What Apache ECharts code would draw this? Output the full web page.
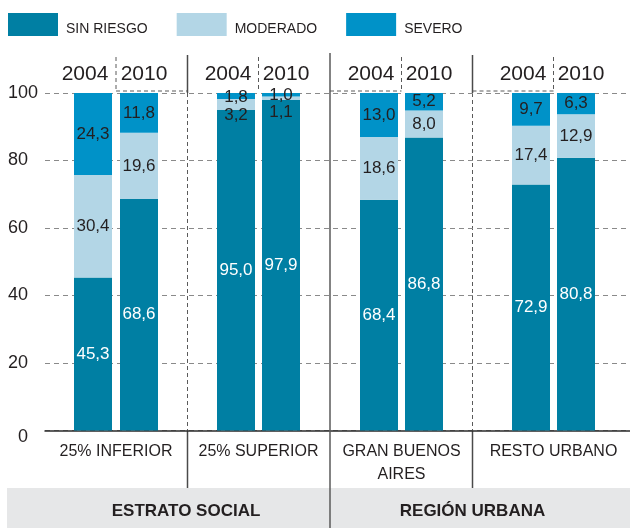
<!DOCTYPE html>
<html>
<head>
<meta charset="utf-8">
<script src="https://cdn.jsdelivr.net/npm/echarts@6/dist/echarts.min.js"></script>
<style>
  html, body { margin: 0; padding: 0; background: #ffffff; }
  #chart { width: 630px; height: 528px; }
</style>
</head>
<body>
<div id="chart"></div>
<script>
// ---------- data ----------
const groups = ['25% INFERIOR', '25% SUPERIOR', 'GRAN BUENOS\nAIRES', 'RESTO URBANO'];
const years = ['2004', '2010'];
const seriesNames = ['SIN RIESGO', 'MODERADO', 'SEVERO'];
const sinRiesgo = [45.3, 68.6, 95.0, 97.9, 68.4, 86.8, 72.9, 80.8];
const moderado  = [30.4, 19.6, 3.2, 1.1, 18.6, 8.0, 17.4, 12.9];
const severo    = [24.3, 11.8, 1.8, 1.0, 13.0, 5.2, 9.7, 6.3];
const sections = ['ESTRATO SOCIAL', 'REGIÓN URBANA'];
const yMin = 0, yMax = 100, yStep = 20;

// ---------- styles / layout ----------
const FONT = 'Liberation Sans';
const TXT = '#231f20';
const colors = ['#007fa3', '#b3d6e6', '#0092c8'];
const labelColors = ['#ffffff', TXT, TXT];
const PLOT_TOP = 93, AXIS_Y = 430.5, W = 630, H = 528;
const groupLeft = [70, 213.5, 356.5, 508.5];
const slotW = [46, 45, 45, 45];
const labelOffsets = [{}, {2: [0, 11], 3: [0, 14]}, {2: [0, 1], 3: [0, 1]}];

const values = [sinRiesgo, moderado, severo];
const fmt = v => Number(v).toFixed(1).replace('.', ',');

const chart = echarts.init(document.getElementById('chart'), null, {renderer: 'canvas'});

const grid = [{left: 45, right: 0, top: PLOT_TOP, bottom: H - AXIS_Y}];
const xAxis = [{
  type: 'value', gridIndex: 0, min: 0, max: 1,
  axisLine: {show: true, lineStyle: {color: '#2b2b2b', width: 1.5}},
  axisTick: {show: false}, axisLabel: {show: false}, splitLine: {show: false}
}];
const yAxis = [{
  type: 'value', gridIndex: 0, min: yMin, max: yMax, interval: yStep,
  axisLine: {show: false}, axisTick: {show: false},
  axisLabel: {
    align: 'left', margin: 37, fontFamily: FONT, fontSize: 18, color: TXT,
    formatter: v => v === 0 ? '{z|0}' : String(v),
    rich: {z: {fontFamily: FONT, fontSize: 18, color: TXT, padding: [14, 0, 0, 10]}}
  },
  splitLine: {show: true, lineStyle: {color: '#8a8a8a', type: [5, 4], width: 1.2}}
}];
const series = [];

groups.forEach((g, gi) => {
  grid.push({left: groupLeft[gi], width: slotW[gi] * 2, top: PLOT_TOP, bottom: H - AXIS_Y});
  const gIdx = gi + 1;
  const topAxisIndex = xAxis.length;
  xAxis.push({
    type: 'category', gridIndex: gIdx, position: 'top', data: years,
    axisLine: {show: false}, axisTick: {show: false}, splitLine: {show: false},
    axisLabel: {
      margin: 8, interval: 0,
      formatter: (v, i) => i === 0 ? '{a|' + v + '}' : '{b|' + v + '}',
      rich: {
        a: {fontFamily: FONT, fontSize: 21, lineHeight: 21, color: TXT, padding: [0, 16, 0, 0]},
        b: {fontFamily: FONT, fontSize: 21, lineHeight: 21, color: TXT, padding: [0, 0, 0, 10]}
      }
    }
  });
  xAxis.push({
    type: 'category', gridIndex: gIdx, position: 'bottom', data: [g],
    axisLine: {show: false}, axisTick: {show: false}, splitLine: {show: false},
    axisLabel: {margin: 10, interval: 0, fontFamily: FONT, fontSize: 16, lineHeight: 22.5, color: TXT}
  });
  yAxis.push({type: 'value', gridIndex: gIdx, min: yMin, max: yMax, show: false});

  seriesNames.forEach((name, si) => {
    const vals = values[si].slice(gi * 2, gi * 2 + 2);
    series.push({
      type: 'bar', name: name, stack: 'g' + gi,
      xAxisIndex: topAxisIndex, yAxisIndex: gIdx,
      barWidth: 38,
      itemStyle: {color: colors[si]},
      emphasis: {disabled: true},
      label: {
        show: true, position: 'inside', fontFamily: FONT, fontSize: 17,
        color: labelColors[si], formatter: p => fmt(p.value)
      },
      data: vals.map((v, i) => {
        const off = labelOffsets[si][gi * 2 + i];
        return off ? {value: v, label: {offset: off}} : v;
      })
    });
  });
});

// decorative dividers / band
const dash = {stroke: '#5a5a5a', lineWidth: 1, lineDash: [4, 3]};
const solid = {stroke: '#4a4a4a', lineWidth: 1.5};
const gDiv = [187.5, 472.5];
const yDiv = [116, 258.5, 401.5, 553.5];
const graphic = [];
graphic.push({type: 'rect', shape: {x: 7, y: 488, width: W - 7, height: H - 488}, style: {fill: '#e6e7e8'}, z: 0, silent: true});
graphic.push({type: 'line', shape: {x1: 330, y1: 53, x2: 330, y2: H}, style: {stroke: '#5a5a5a', lineWidth: 1.5}, z: 5, silent: true});
gDiv.forEach(x => {
  graphic.push({type: 'line', shape: {x1: x, y1: 55, x2: x, y2: PLOT_TOP}, style: solid, silent: true});
  graphic.push({type: 'line', shape: {x1: x, y1: PLOT_TOP, x2: x, y2: AXIS_Y}, style: dash, silent: true});
  graphic.push({type: 'line', shape: {x1: x, y1: AXIS_Y, x2: x, y2: 488}, style: solid, silent: true});
});
yDiv.forEach(x => {
  graphic.push({type: 'line', shape: {x1: x, y1: 57, x2: x, y2: 91}, style: dash, silent: true});
});
[[116, 187.5], [330, 401.5], [472.5, 553.5]].forEach(([a, b]) => {
  graphic.push({type: 'line', shape: {x1: a, y1: 91, x2: b, y2: 91}, style: dash, silent: true});
});
const sectionCenters = [186, 472.5];
sections.forEach((s, i) => {
  graphic.push({type: 'text', x: sectionCenters[i], y: 511, z: 6, silent: true,
    style: {text: s, fill: TXT, font: 'bold 17px "' + FONT + '"', align: 'center', verticalAlign: 'middle'}});
});

chart.setOption({
  animation: false,
  backgroundColor: '#ffffff',
  textStyle: {fontFamily: FONT},
  legend: {
    data: seriesNames, left: 8, top: 13, padding: 0, icon: 'rect',
    itemWidth: 50, itemHeight: 23, itemGap: 29, selectedMode: false,
    formatter: name => '{t|' + name + '}',
    textStyle: {
      fontFamily: FONT, fontSize: 14, color: TXT,
      rich: {t: {fontFamily: FONT, fontSize: 14, color: TXT, padding: [10, 0, 0, 3]}}
    }
  },
  grid: grid,
  xAxis: xAxis,
  yAxis: yAxis,
  series: series,
  graphic: graphic
});
</script>
</body>
</html>
